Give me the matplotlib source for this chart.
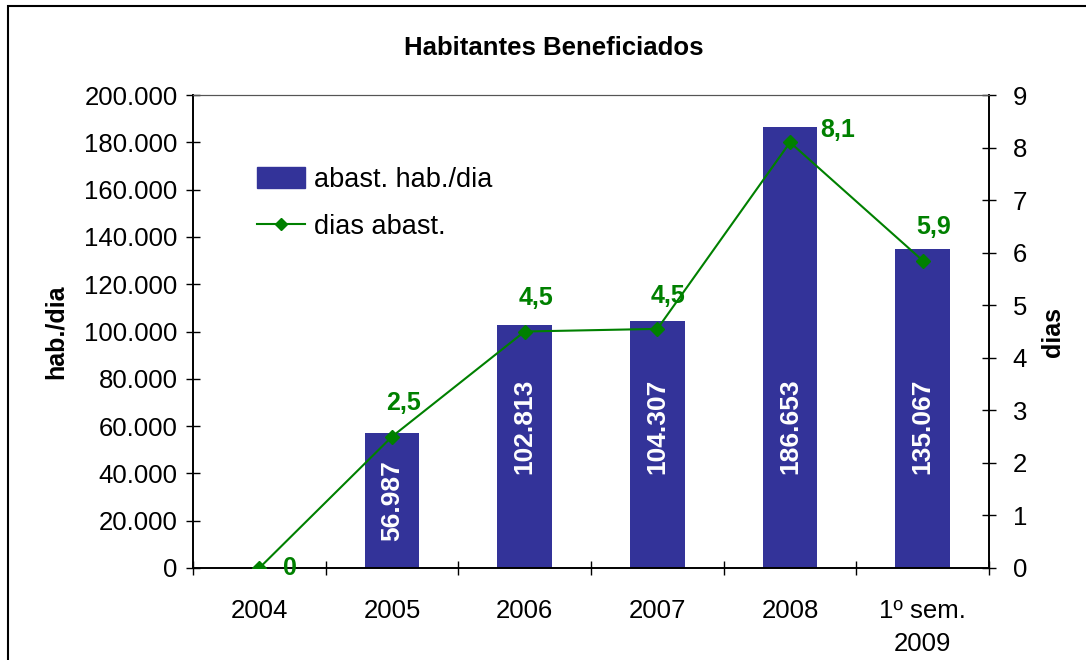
import numpy as np
import matplotlib.pyplot as plt
from matplotlib.patches import Rectangle
from matplotlib.lines import Line2D

plt.rcParams['font.family'] = ['Liberation Sans', 'DejaVu Sans']

# data
categories = ['2004', '2005', '2006', '2007', '2008', '1º sem.\n2009']
habitantes = [0, 56987, 102813, 104307, 186653, 135067]
dias = [0, 2.5, 4.5, 4.55, 8.1, 5.85]
dias_labels = ['0', '2,5', '4,5', '4,5', '8,1', '5,9']

bar_color = '#333399'
line_color = '#008000'

fig = plt.figure(figsize=(10.86, 6.6), dpi=100)
ax = fig.add_axes([0.1777, 0.1394, 0.7330, 0.7166])
ax2 = ax.twinx()

x = np.arange(len(categories))
ax.bar(x, habitantes, width=0.41, color=bar_color, zorder=2)
ax.set_xlim(-0.5, len(categories) - 0.5)
ax.set_ylim(0, 200000)
ax.set_yticks(np.arange(0, 200001, 20000))
ax.set_yticklabels(['{:,}'.format(v).replace(',', '.') for v in range(0, 200001, 20000)])
ax.set_xticks(x)
ax.set_xticklabels(categories, linespacing=1.5)
ax.set_xticks(np.arange(-0.5, len(categories), 1), minor=True)
ax.tick_params(axis='x', which='major', length=0, pad=22, labelsize=18.5)
ax.tick_params(axis='x', which='minor', direction='inout', length=10, width=1)
ax.tick_params(axis='y', direction='inout', length=10, width=1, labelsize=18.5, pad=6)
ax.set_ylabel('hab./dia', fontsize=18, fontweight='bold', labelpad=12)

# valores nas barras
for i, v in enumerate(habitantes):
    if v == 0:
        continue
    ypos = v / 2 if v < 80000 else 60000
    ax.text(i, ypos, '{:,}'.format(v).replace(',', '.'), rotation=90, color='white',
            fontsize=19, fontweight='bold', ha='center', va='center', zorder=3)

ax2.plot(x, dias, color=line_color, marker='D', markersize=7, linewidth=1.5, zorder=4)
ax2.set_ylim(0, 9)
ax2.set_yticks(range(0, 10))
ax2.tick_params(axis='y', direction='inout', length=10, width=1, labelsize=18.5, pad=12)
ax2.set_ylabel('dias', fontsize=18, fontweight='bold', labelpad=10)
for i, (d, lab) in enumerate(zip(dias, dias_labels)):
    if i == 0:
        ax2.annotate(lab, (i, d), xytext=(17, 0), textcoords='offset points',
                     color=line_color, fontsize=18, fontweight='bold', ha='left', va='center')
    elif i == 4:
        ax2.annotate(lab, (i, d), xytext=(22, 9), textcoords='offset points',
                     color=line_color, fontsize=18, fontweight='bold', ha='left', va='center')
    else:
        ax2.annotate(lab, (i, d), xytext=(8, 24), textcoords='offset points',
                     color=line_color, fontsize=18, fontweight='bold', ha='center', va='center')

for a in (ax, ax2):
    a.spines['top'].set_color('#555555')
    a.spines['left'].set_linewidth(1.2)
    a.spines['right'].set_linewidth(1.2)
    a.spines['bottom'].set_linewidth(1.2)

handles = [Rectangle((0, 0), 1, 1, color=bar_color),
           Line2D([], [], color=line_color, marker='D', markersize=6, linewidth=1.5)]
ax.legend(handles, ['abast. hab./dia', 'dias abast.'], loc='upper left',
          bbox_to_anchor=(0.05, 0.9), frameon=False, fontsize=19.5,
          handlelength=1.75, handleheight=0.8, handletextpad=0.35, labelspacing=0.8)

fig.text(0.51, 0.928, 'Habitantes Beneficiados', ha='center', va='center',
         fontsize=18.5, fontweight='bold')

fig.patches.append(Rectangle((8 / 1086, -0.1), 1.1, 1.1 - 6 / 660 + 0.0,
                             transform=fig.transFigure, fill=False,
                             edgecolor='black', linewidth=1.5))

plt.savefig('out.png', dpi=100)
